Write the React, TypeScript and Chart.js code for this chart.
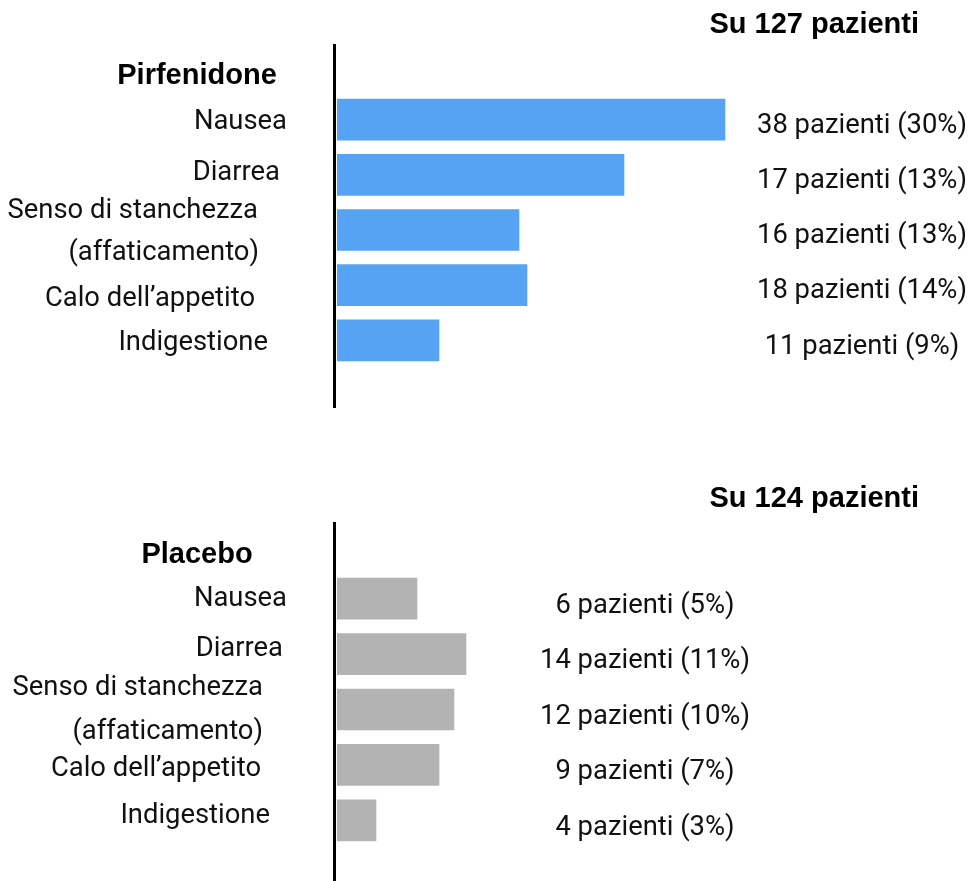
import React, { useEffect, useRef } from "react";
import { Chart, registerables } from "chart.js";

Chart.register(...registerables);

// ---- data ----
const categories: string[][] = [
  ["Nausea"],
  ["Diarrea"],
  ["Senso di stanchezza", "(affaticamento)"],
  ["Calo dell’appetito"],
  ["Indigestione"],
];

const pirfenidoneTitle = "Pirfenidone";
const pirfenidoneTotal = 127;
const pirfenidonePatients = [38, 17, 16, 18, 11];
const pirfenidonePercent = [30, 13, 13, 14, 9];
// bar length as drawn in the picture (0–40 display scale)
const pirfenidoneBars = [38.8, 28.7, 18.2, 19.0, 10.2];

const placeboTitle = "Placebo";
const placeboTotal = 124;
const placeboPatients = [6, 14, 12, 9, 4];
const placeboPercent = [5, 11, 10, 7, 3];
const placeboBars = [8.0, 12.9, 11.7, 10.2, 3.9];

const SCALE_MAX = 40;

// ---- layout ----
const WIDTH = 971;
const AXIS_X = 333;
const AREA_LEFT = 337;
const AREA_RIGHT = 737;
const GROUP_X = 197;
const TOTAL_RIGHT = 919;
const BOLD_FONT = "bold 29px 'Liberation Sans', Arial, sans-serif";
const BOLD_CAP = 29 * 0.716;
const REG_SIZE = 27.4;
const REG_FONT = `${REG_SIZE}px Roboto, 'Liberation Sans', sans-serif`;
const REG_CAP = REG_SIZE * 0.711;

type Panel = {
  height: number;
  title: string;
  total: number;
  patients: number[];
  percent: number[];
  bars: number[];
  color: string;
  padTop: number;
  padBottom: number;
  axisTop: number;
  axisBottom: number;
  titleY: number;
  totalY: number;
  valueX: number;
  valueDy: number;
  labelRight: number[][];
  labelDy: number[][];
};

const panels: Panel[] = [
  {
    height: 440,
    title: pirfenidoneTitle,
    total: pirfenidoneTotal,
    patients: pirfenidonePatients,
    percent: pirfenidonePercent,
    bars: pirfenidoneBars,
    color: "#56A2F3",
    padTop: 92,
    padBottom: 72,
    axisTop: 44,
    axisBottom: 408,
    titleY: 73.5,
    totalY: 23,
    valueX: 862,
    valueDy: 3.5,
    labelRight: [[287], [280], [258, 259], [255], [268]],
    labelDy: [[0], [-5], [-22, 20], [11.5], [-0.5]],
  },
  {
    height: 441,
    title: placeboTitle,
    total: placeboTotal,
    patients: placeboPatients,
    percent: placeboPercent,
    bars: placeboBars,
    color: "#B3B3B3",
    padTop: 131,
    padBottom: 33,
    axisTop: 82,
    axisBottom: 441,
    titleY: 113,
    totalY: 57,
    valueX: 645,
    valueDy: 4.5,
    labelRight: [[287], [283], [263, 263], [261], [270]],
    labelDy: [[-2.5], [-8], [-24.5, 19.5], [1], [-7.5]],
  },
];

function PanelChart({ p }: { p: Panel }) {
  const ref = useRef<HTMLCanvasElement | null>(null);
  useEffect(() => {
    if (!ref.current) return;
    const textPlugin = {
      id: "panelText",
      afterDatasetsDraw(chart: any) {
        const ctx = chart.ctx as CanvasRenderingContext2D;
        const meta = chart.getDatasetMeta(0);
        ctx.save();
        ctx.fillStyle = "#000";
        ctx.fillRect(AXIS_X, p.axisTop, 3, p.axisBottom - p.axisTop);
        ctx.textBaseline = "alphabetic";
        ctx.font = BOLD_FONT;
        ctx.textAlign = "center";
        ctx.fillText(p.title, GROUP_X, p.titleY + BOLD_CAP / 2);
        ctx.textAlign = "right";
        ctx.fillText(`Su ${p.total} pazienti`, TOTAL_RIGHT, p.totalY + BOLD_CAP / 2);
        ctx.font = REG_FONT;
        ctx.fillStyle = "#111";
        meta.data.forEach((bar: any, i: number) => {
          ctx.textAlign = "right";
          categories[i].forEach((line, j) => {
            ctx.fillText(line, p.labelRight[i][j], bar.y + p.labelDy[i][j] + REG_CAP / 2);
          });
          ctx.textAlign = "center";
          ctx.fillText(
            `${p.patients[i]} pazienti (${p.percent[i]}%)`,
            p.valueX,
            bar.y + p.valueDy + REG_CAP / 2
          );
        });
        ctx.restore();
      },
    };
    const chart = new Chart(ref.current, {
      type: "bar",
      data: {
        labels: categories.map((c) => c.join(" ")),
        datasets: [
          {
            data: p.bars,
            backgroundColor: p.color,
            borderWidth: 0,
            barThickness: 41,
          },
        ],
      },
      options: {
        indexAxis: "y",
        responsive: false,
        animation: false,
        devicePixelRatio: 1,
        layout: {
          padding: {
            left: AREA_LEFT,
            right: WIDTH - AREA_RIGHT,
            top: p.padTop,
            bottom: p.padBottom,
          },
        },
        scales: {
          x: { display: false, min: 0, max: SCALE_MAX },
          y: { display: false },
        },
        plugins: {
          legend: { display: false },
          tooltip: { enabled: false },
        },
      },
      plugins: [textPlugin],
    } as any);
    return () => chart.destroy();
  }, [p]);
  return (
    <canvas
      ref={ref}
      width={WIDTH}
      height={p.height}
      style={{ display: "block", width: WIDTH, height: p.height }}
    />
  );
}

export default function App() {
  return (
    <div
      style={{
        position: "absolute",
        left: 0,
        top: 0,
        width: WIDTH,
        height: 881,
        background: "#fff",
      }}
    >
      {panels.map((p, i) => (
        <PanelChart key={i} p={p} />
      ))}
    </div>
  );
}
